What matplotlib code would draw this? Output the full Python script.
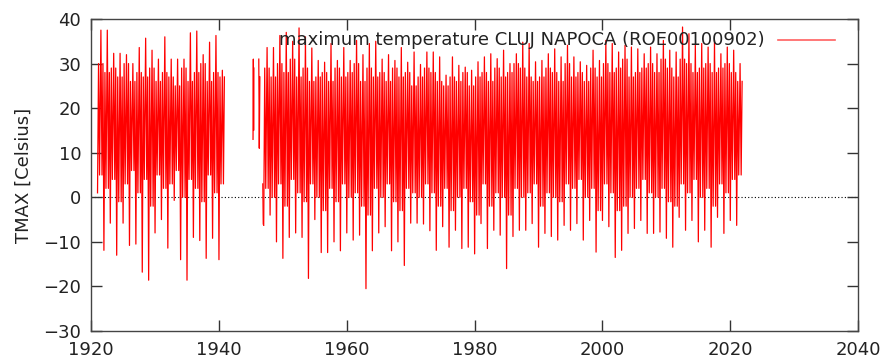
import matplotlib
matplotlib.use("Agg")
import matplotlib.pyplot as plt
import numpy as np

# yearly extremes of daily TMAX (winter low, summer high)
years_1 = list(range(1921, 1941))
hi_1 = [37.5, 37.5, 32.3, 32.3, 32.0, 30.0, 33.6, 35.7, 33.0, 31.0,
        36.0, 31.0, 31.0, 31.0, 36.9, 37.3, 32.0, 34.8, 36.3, 28.5]
lo_1 = [1.0, -11.9, -5.8, -13.0, -5.8, -10.8, -10.5, -16.8, -18.6, -8.0,
        -5.0, -11.4, -0.7, -14.0, -18.6, -9.0, -9.7, -13.7, -9.2, -14.0]
# secondary peaks / troughs (estimated)
hi2_1 = [30, 28, 29, 27, 30, 26, 28, 27, 29, 26,
         28, 27, 25, 29, 26, 28, 30, 26, 28, 27]
lo2_1 = [5, 2, 4, -1, 3, 6, 1, 4, -2, 5,
         2, 3, 6, 0, 4, 2, -1, 5, 1, 3]

years_2 = list(range(1947, 2022))
hi_2 = [33.6, 33.6, 36.3, 37.0, 35.0, 38.0, 36.0, 33.5,
        30.7, 30.3, 34.5, 30.7, 33.6, 30.7, 35.2, 32.0, 34.5, 35.0,
        31.0, 32.0, 30.7, 33.6, 30.3, 32.6, 29.8, 32.6,
        32.6, 31.5, 27.4, 31.5, 29.6, 29.2, 28.5, 30.4, 31.5, 32.2,
        31.1, 33.0, 30.0, 32.2, 34.8, 34.5, 30.4,
        30.7, 32.2, 33.3, 31.5, 34.1, 31.5, 30.4, 29.6, 33.0, 30.7,
        35.2, 34.5, 32.6, 34.1, 33.7, 33.3, 32.2,
        33.7, 32.2, 35.2, 33.0, 32.6, 38.2, 36.7, 34.1, 34.5, 33.7,
        35.2, 32.2, 33.7, 33.0, 30.0]
lo_2 = [-6.3, -4.0, -10.0, -13.7, -9.0, -8.0, -9.0, -18.2,
        -5.0, -12.4, -12.4, -10.0, -12.0, -8.0, -9.6, -8.5, -20.5, -12.0,
        -8.0, -6.6, -12.0, -10.0, -15.3, -5.8, -5.8, -6.0,
        -7.5, -11.9, -6.6, -11.2, -7.4, -11.5, -11.2, -12.7, -5.9, -11.5,
        -7.4, -8.5, -16.0, -8.8, -7.4, -7.4, -5.9,
        -11.2, -8.1, -8.8, -9.6, -6.3, -7.4, -5.9, -9.6, -5.2, -12.3,
        -5.2, -6.6, -13.5, -11.9, -8.1, -7.0, -5.2,
        -8.1, -8.1, -7.8, -9.2, -11.2, -4.5, -7.4, -5.2, -10.0, -7.4,
        -11.2, -4.5, -8.1, -5.2, -6.3]
hi2_2 = [29, 27, 30, 28, 31, 27, 29, 26,
         27, 28, 26, 29, 27, 28, 30, 26, 29, 27, 28, 26, 29, 27, 28, 25, 27, 29,
         28, 26, 25, 27, 26, 28, 25, 27, 28, 26, 29, 27, 28, 30, 29, 27, 26,
         27, 29, 28, 26, 30, 27, 28, 26, 29, 27, 30, 28, 29, 31, 27, 28, 29,
         30, 28, 31, 29, 27, 31, 30, 28, 29, 30, 28, 29, 30, 28, 26]
lo2_2 = [2, 0, 3, -2, 4, 1, -1, 3,
         0, -3, 2, -1, 3, 0, 1, -2, -4, 2, 0, 3, -1, -3, 2, 1, 0, 3,
         1, -2, 2, -3, 0, 2, -1, -4, 3, -2, 1, 0, -4, 2, 0, 1, 3,
         -2, 1, 0, -1, 3, 2, 4, 0, 2, -3, 3, 1, -3, -2, 0, 2, 4,
         1, 0, 2, -1, -2, 3, 1, 4, 0, 2, -2, 3, 1, 4, 5]

# short fragments around the war gap
frag_t = [[1945.35, 1945.40, 1945.44, 1945.48], [1946.25, 1946.33, 1946.42],
          [1946.88, 1946.95]]
frag_v = [[13.0, 31.0, 15.0, 29.0], [31.0, 11.0, 27.0], [3.0, -6.0]]


def path(yrs, hi, lo, hi2, lo2):
    t, v = [], []
    for y, h, l, h2, l2 in zip(yrs, hi, lo, hi2, lo2):
        t += [y + 0.02, y + 0.18, y + 0.34, y + 0.55, y + 0.72, y + 0.87]
        v += [l, h2, l2, h, l2, h2]
    return t, v


fig = plt.figure(figsize=(8.81, 3.62), dpi=100)
ax = fig.add_axes([91 / 881, 1 - 331 / 362, 767 / 881, 312 / 362])

ax.axhline(0, color="black", lw=0.8, ls=(0, (1, 2)), zorder=1)

series = [(years_1, hi_1, lo_1, hi2_1, lo2_1),
          (years_2, hi_2, lo_2, hi2_2, lo2_2)]
for s in series:
    t, v = path(*s)
    ax.plot(t, v, color="red", lw=0.9, zorder=2)
for t, v in zip(frag_t, frag_v):
    ax.plot(t, v, color="red", lw=0.9, zorder=2)

# legend gnuplot style: text, then sample line
ax.text((765 - 91) / 767, (331 - 40) / 312,
        "maximum temperature CLUJ NAPOCA (ROE00100902)",
        transform=ax.transAxes, ha="right", va="center", fontsize=13,
        color="#222222")
ax.plot([(778 - 91) / 767, (835 - 91) / 767], [(331 - 40) / 312] * 2,
        transform=ax.transAxes, color="#ff6060", lw=1.2)

ax.set_xlim(1920, 2040)
ax.set_ylim(-30, 40)
ax.set_xticks(np.arange(1920, 2041, 20))
ax.set_yticks(np.arange(-30, 41, 10))
ax.tick_params(direction="in", length=8, width=1, colors="#333333",
               labelcolor="#222222", labelsize=13, top=True, right=True,
               pad=7)
for sp in ax.spines.values():
    sp.set_color("#444444")
    sp.set_linewidth(1)
ax.set_ylabel("TMAX [Celsius]", fontsize=13, labelpad=8, color="#222222")

fig.savefig("out.png", dpi=100)
